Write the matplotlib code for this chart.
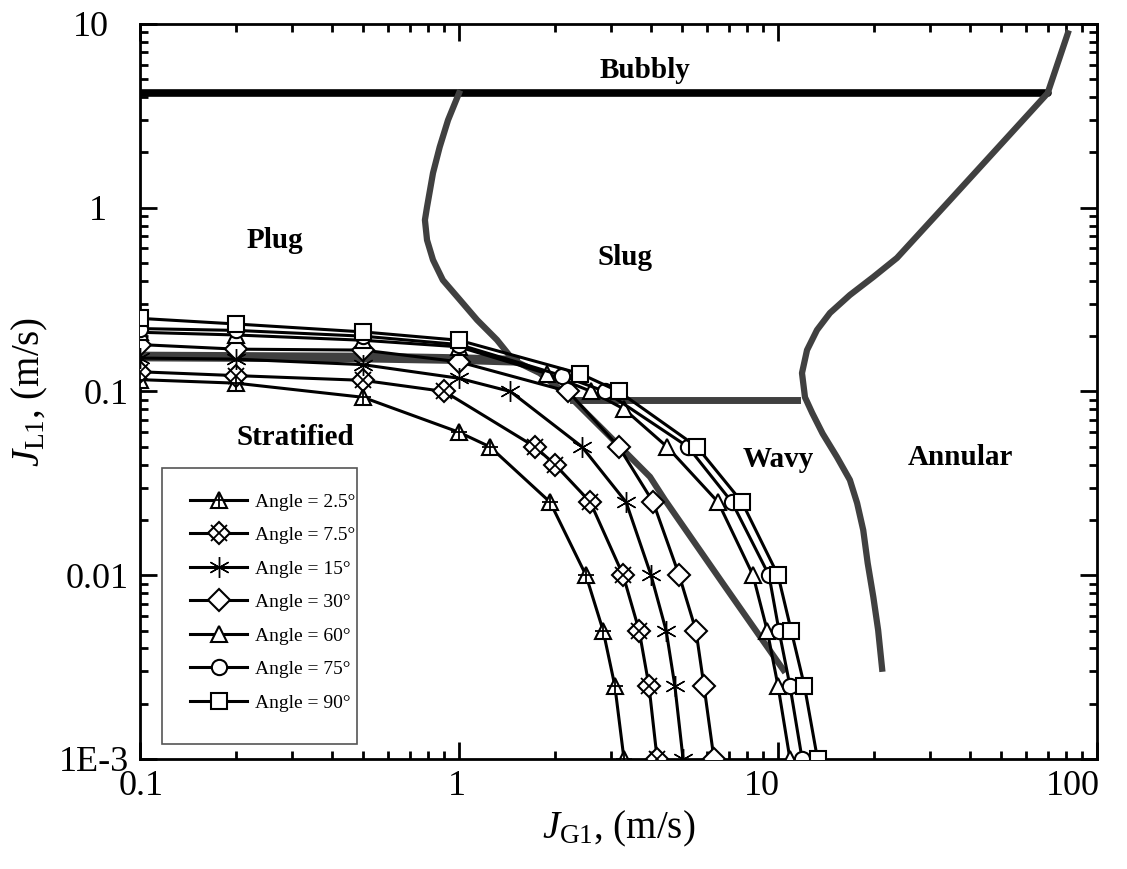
import matplotlib
matplotlib.use("Agg")
import matplotlib.pyplot as plt
import matplotlib.ticker as mticker
import matplotlib.transforms as mtransforms
from matplotlib.legend_handler import HandlerTuple
from matplotlib.patches import Rectangle

plt.rcParams['font.family'] = ['Liberation Serif', 'DejaVu Serif']
plt.rcParams['mathtext.fontset'] = 'custom'
plt.rcParams['mathtext.rm'] = 'Liberation Serif'
plt.rcParams['mathtext.it'] = 'Liberation Serif:italic'

# ---- transition data: gas velocity JG vs liquid velocity JL for each angle ----
jg_2_5 = [0.1, 0.2, 0.5, 1.0, 1.25, 1.93, 2.5, 2.83, 3.08, 3.29]
jl_2_5 = [0.116, 0.111, 0.093, 0.06, 0.05, 0.025, 0.01, 0.005, 0.0025, 0.001]

jg_7_5 = [0.1, 0.2, 0.5, 0.9, 1.73, 2.0, 2.58, 3.27, 3.67, 3.94, 4.18]
jl_7_5 = [0.128, 0.122, 0.115, 0.1, 0.05, 0.04, 0.025, 0.01, 0.005, 0.0025, 0.001]

jg_15 = [0.1, 0.2, 0.5, 1.0, 1.45, 2.43, 3.34, 4.0, 4.46, 4.75, 5.04]
jl_15 = [0.152, 0.15, 0.14, 0.118, 0.1, 0.05, 0.025, 0.01, 0.005, 0.0025, 0.001]

jg_30 = [0.1, 0.2, 0.5, 1.0, 2.2, 3.17, 4.06, 4.9, 5.53, 5.86, 6.3]
jl_30 = [0.18, 0.17, 0.168, 0.145, 0.1, 0.05, 0.025, 0.01, 0.005, 0.0025, 0.001]

jg_60 = [0.1, 0.2, 0.5, 1.0, 1.89, 2.6, 3.3, 4.49, 6.49, 8.35, 9.25, 10.0, 10.9]
jl_60 = [0.21, 0.203, 0.19, 0.175, 0.125, 0.1, 0.08, 0.05, 0.025, 0.01, 0.005, 0.0025, 0.001]

jg_75 = [0.1, 0.2, 0.5, 1.0, 2.1, 2.87, 5.22, 7.17, 9.37, 10.07, 10.9, 11.9]
jl_75 = [0.22, 0.215, 0.2, 0.18, 0.122, 0.1, 0.05, 0.025, 0.01, 0.005, 0.0025, 0.001]

jg_90 = [0.1, 0.2, 0.5, 1.0, 2.4, 3.17, 5.57, 7.71, 10.0, 11.0, 12.1, 13.3]
jl_90 = [0.25, 0.233, 0.211, 0.19, 0.125, 0.1, 0.05, 0.025, 0.01, 0.005, 0.0025, 0.001]

angle_labels = ['Angle = 2.5°', 'Angle = 7.5°', 'Angle = 15°', 'Angle = 30°',
                'Angle = 60°', 'Angle = 75°', 'Angle = 90°']

# ---- flow-regime map boundaries ----
bubbly_jg = [0.1, 70.0]
bubbly_jl = [4.2, 4.2]

annular_jg = [81.0, 70.0, 34.6, 23.6, 19.9, 16.8, 14.55, 13.25, 12.33, 11.89, 12.15,
              12.8, 13.8, 15.3, 16.8, 17.7, 18.5, 19.1, 19.9, 20.6, 21.2]
annular_jl = [8.9, 4.2, 1.1, 0.533, 0.42, 0.335, 0.2675, 0.216, 0.168, 0.126, 0.093,
              0.0764, 0.059, 0.044, 0.033, 0.0247, 0.0176, 0.01166, 0.0076, 0.00503,
              0.0031]

slug_jg = [1.0, 0.924, 0.87, 0.829, 0.794, 0.782, 0.794, 0.829, 0.89, 1.007, 1.14,
           1.315, 1.48, 1.79, 2.28, 2.91, 3.97, 4.42, 6.77, 10.4]
slug_jl = [4.2, 3.0, 2.14, 1.545, 1.01, 0.858, 0.667, 0.52, 0.404, 0.315, 0.245,
           0.191, 0.148, 0.126, 0.09, 0.059, 0.0343, 0.0257, 0.00885, 0.00305]

strat_jg = [0.1, 0.5, 1.0, 1.5]
strat_jl = [0.155, 0.153, 0.150, 0.147]

wavy_jg = [2.28, 11.5]
wavy_jl = [0.09, 0.09]

regions = ['Bubbly', 'Plug', 'Slug', 'Stratified', 'Wavy', 'Annular']
region_x = [3.83, 0.265, 3.31, 0.306, 10.0, 37.2]
region_y = [5.6, 0.667, 0.533, 0.0565, 0.0424, 0.0435]

x_ticks = [0.1, 1, 10, 100]
x_ticklabels = ['0.1', '1', '10', '100']
y_ticks = [1e-3, 0.01, 0.1, 1, 10]
y_ticklabels = ['1E-3', '0.01', '0.1', '1', '10']

fig = plt.figure(figsize=(11.27, 8.69), dpi=100)
ax = fig.add_axes([0.1242, 0.1266, 0.8492, 0.8458])
ax.set_xscale('log')
ax.set_yscale('log')
ax.set_xlim(0.1, 100)
ax.set_ylim(1e-3, 10)

gray = '#404040'
ax.plot(bubbly_jg, bubbly_jl, color='black', lw=5.5, solid_capstyle='round', zorder=2)
ax.plot(annular_jg, annular_jl, color=gray, lw=4.5, solid_joinstyle='round', zorder=2)
ax.plot(slug_jg, slug_jl, color=gray, lw=4.5, solid_joinstyle='round', zorder=2)
ax.plot(strat_jg, strat_jl, color=gray, lw=7, zorder=2)
ax.plot(wavy_jg, wavy_jl, color=gray, lw=5, zorder=2)

for name, x, y in zip(regions, region_x, region_y):
    ax.text(x, y, name, fontsize=21, fontweight='bold', ha='center', va='center', zorder=3)

lw = 2.2
ms = 11
mew = 1.5
common = dict(color='black', lw=lw, ms=ms, mew=mew, mfc='white', mec='black', zorder=4)

series = [
    (jg_2_5, jl_2_5, '^', '+'),
    (jg_7_5, jl_7_5, 'D', 'x'),
    (jg_15, jl_15, None, '*'),
    (jg_30, jl_30, 'D', None),
    (jg_60, jl_60, '^', None),
    (jg_75, jl_75, 'o', None),
    (jg_90, jl_90, 's', None),
]

handles = []
for (xs, ys, base, over) in series:
    parts = []
    if base is not None:
        h, = ax.plot(xs, ys, marker=base, **common)
    else:
        h, = ax.plot(xs, ys, **common)
    parts.append(h)
    if over == '*':
        o, = ax.plot(xs, ys, ls='none', marker=(6, 2, 0), ms=ms + 4, mew=1.0,
                     color='black', zorder=5)
        parts.append(o)
    elif over is not None:
        o, = ax.plot(xs, ys, ls='none', marker=over, ms=ms + 1, mew=1.3,
                     color='black', zorder=5)
        parts.append(o)
    handles.append(tuple(parts))

# legend box drawn as its own rectangle, entries placed inside it
ax.add_patch(Rectangle((0.023, 0.0204), 0.2038, 0.3756, transform=ax.transAxes,
                       facecolor='white', edgecolor='#555555', lw=1.2, zorder=6))
leg = ax.legend(handles, angle_labels, handler_map={tuple: HandlerTuple(ndivide=1)},
                loc='upper left', bbox_to_anchor=(0.0523, 0.362), fontsize=14,
                frameon=False, borderpad=0, borderaxespad=0,
                handlelength=2.95, labelspacing=0.82, handletextpad=0.4)
leg.set_zorder(7)

# ticks
ax.xaxis.set_minor_locator(mticker.LogLocator(base=10, subs=range(2, 10), numticks=20))
ax.yaxis.set_minor_locator(mticker.LogLocator(base=10, subs=range(2, 10), numticks=20))
ax.xaxis.set_minor_formatter(mticker.NullFormatter())
ax.yaxis.set_minor_formatter(mticker.NullFormatter())
ax.set_xticks(x_ticks)
ax.set_xticklabels(x_ticklabels)
ax.set_yticks(y_ticks)
ax.set_yticklabels(y_ticklabels)
ax.tick_params(which='both', direction='in', top=True, right=True, width=2)
ax.tick_params(which='major', length=12, labelsize=26, pad=8)
ax.tick_params(which='minor', length=6)
for sp in ax.spines.values():
    sp.set_linewidth(2)

# nudge a few tick labels sideways (offsets in points)
x_shift = {'0.1': 0.7, '1': -1.4, '10': -11.5, '100': -17.3}
y_shift = {'10': -14.4, '1': -15.8}
for lab in ax.get_xticklabels():
    dx = x_shift.get(lab.get_text(), 0)
    lab.set_transform(lab.get_transform() +
                      mtransforms.ScaledTranslation(dx / 72, 0, fig.dpi_scale_trans))
for lab in ax.get_yticklabels():
    dx = y_shift.get(lab.get_text(), 0)
    lab.set_transform(lab.get_transform() +
                      mtransforms.ScaledTranslation(dx / 72, 0, fig.dpi_scale_trans))

ax.set_xlabel(r'$J_{\mathrm{G1}}$, (m/s)', fontsize=28, labelpad=4)
ax.set_ylabel(r'$J_{\mathrm{L1}}$, (m/s)', fontsize=28, labelpad=6)

fig.savefig('out.png', dpi=100)
